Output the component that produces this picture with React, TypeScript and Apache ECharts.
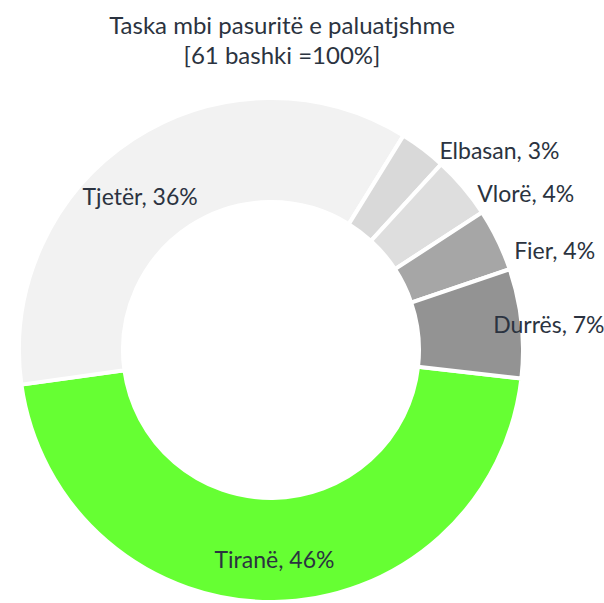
import React, { useEffect, useRef } from "react";
import * as echarts from "echarts";

const titleLines = ["Taska mbi pasuritë e paluatjshme", "[61 bashki =100%]"];
const categories = ["Tiranë", "Tjetër", "Elbasan", "Vlorë", "Fier", "Durrës"];
const values = [46, 36, 3, 4, 4, 7];
const colors = ["#66FF33", "#F2F2F2", "#D9D9D9", "#DEDEDE", "#A6A6A6", "#939393"];
const labelShift: [number, number][] = [
  [1, 6],
  [-20, 16],
  [106, -38],
  [100, -26],
  [101, -11],
  [76, -4],
];

const FONT = "Lato, 'Open Sans', sans-serif";
const TEXT = "#2B3340";

export default function App() {
  const ref = useRef<HTMLDivElement>(null);
  useEffect(() => {
    if (!ref.current) return;
    const chart = echarts.init(ref.current, undefined, { renderer: "svg" });
    chart.setOption({
      animation: false,
      backgroundColor: "#ffffff",
      title: {
        text: titleLines.join("\n"),
        left: 277,
        top: 4,
        textAlign: "center",
        textStyle: {
          fontFamily: FONT,
          fontSize: 24,
          fontWeight: "normal",
          color: TEXT,
          lineHeight: 30,
        },
      },
      series: [
        {
          type: "pie",
          center: [271, 350],
          radius: [148, 252],
          startAngle: -6.5,
          clockwise: true,
          avoidLabelOverlap: false,
          itemStyle: { borderColor: "#ffffff", borderWidth: 4 },
          label: {
            show: true,
            position: "inside",
            rotate: 0,
            formatter: (p: any) => `${p.name}, ${p.value}%`,
            fontFamily: FONT,
            fontSize: 23,
            color: TEXT,
          },
          labelLine: { show: false },
          labelLayout: (p: any) => ({
            dx: labelShift[p.dataIndex][0],
            dy: labelShift[p.dataIndex][1],
          }),
          emphasis: { disabled: true },
          data: categories.map((c, i) => ({
            name: c,
            value: values[i],
            itemStyle: { color: colors[i] },
          })),
        },
      ],
    });
    return () => chart.dispose();
  }, []);
  return (
    <div
      ref={ref}
      style={{ position: "absolute", left: 0, top: 0, width: 604, height: 603 }}
    />
  );
}
